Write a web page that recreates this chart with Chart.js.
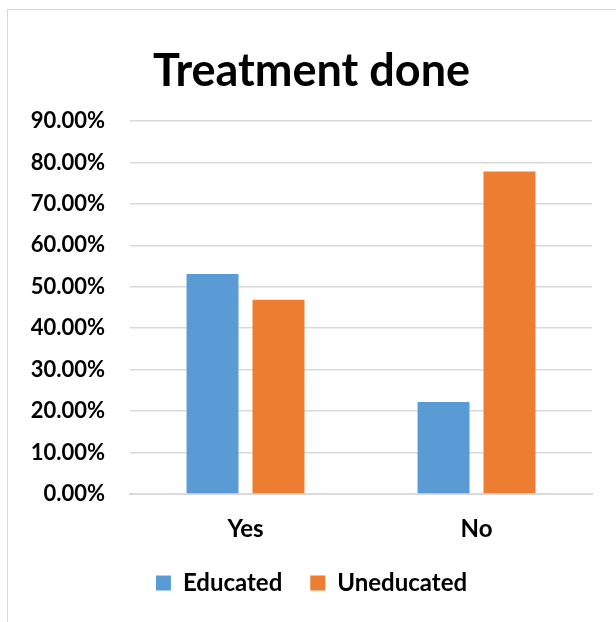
<!DOCTYPE html>
<html>
<head>
<meta charset="utf-8">
<script src="https://cdn.jsdelivr.net/npm/chart.js"></script>
<style>
  html, body { margin: 0; padding: 0; background: #fff; }
  #wrap { position: relative; width: 616px; height: 622px; overflow: hidden; }
  #frame { position: absolute; left: 7px; top: 9px; width: 700px; height: 700px;
           border-left: 1px solid #d9d9d9; border-top: 1px solid #d9d9d9; }
  canvas { position: absolute; left: 0; top: 0; }
</style>
</head>
<body>
<div id="wrap">
  <div id="frame"></div>
  <canvas id="chart" width="616" height="622"></canvas>
</div>
<script>
  // Werte
  const categories = ['Yes', 'No'];
  const educated = [53.1, 22.2];
  const uneducated = [46.9, 77.8];
  const seriesNames = ['Educated', 'Uneducated'];

  const fontName = 'Lato, "Open Sans", sans-serif';

  const ctx = document.getElementById('chart').getContext('2d');
  const chart = new Chart(ctx, {
    type: 'bar',
    data: {
      labels: categories,
      datasets: [
        { label: seriesNames[0], data: educated, backgroundColor: '#5B9BD5',
          categoryPercentage: 0.571, barPercentage: 0.788 },
        { label: seriesNames[1], data: uneducated, backgroundColor: '#ED7D31',
          categoryPercentage: 0.571, barPercentage: 0.788 }
      ]
    },
    options: {
      responsive: false,
      animation: false,
      layout: { padding: { left: 31, right: 24, top: 0, bottom: 17 } },
      plugins: {
        title: {
          display: true,
          text: 'Treatment done',
          color: '#000',
          font: { family: fontName, size: 45, weight: 'bold' },
          padding: { top: 44, bottom: 23 }
        },
        legend: {
          position: 'bottom',
          labels: {
            color: '#000',
            font: { family: fontName, size: 24, weight: 'bold' },
            boxWidth: 15, boxHeight: 15,
            padding: 28
          }
        },
        tooltip: { enabled: false }
      },
      scales: {
        x: {
          grid: { display: false, drawTicks: false },
          border: { color: '#d9d9d9', width: 2 },
          ticks: { color: '#000', padding: 21,
                   font: { family: fontName, size: 24, weight: 'bold' } },
          afterFit: scale => { scale.height = 49; }
        },
        y: {
          min: 0, max: 90,
          grid: { color: '#d9d9d9', lineWidth: 1.5, drawTicks: false },
          border: { display: false },
          ticks: {
            stepSize: 10, color: '#000', padding: 25,
            font: { family: fontName, size: 22, weight: 'bold' },
            callback: v => v.toFixed(2) + '%'
          },
          afterFit: scale => { scale.width = 99; }
        }
      }
    }
  });
</script>
</body>
</html>
